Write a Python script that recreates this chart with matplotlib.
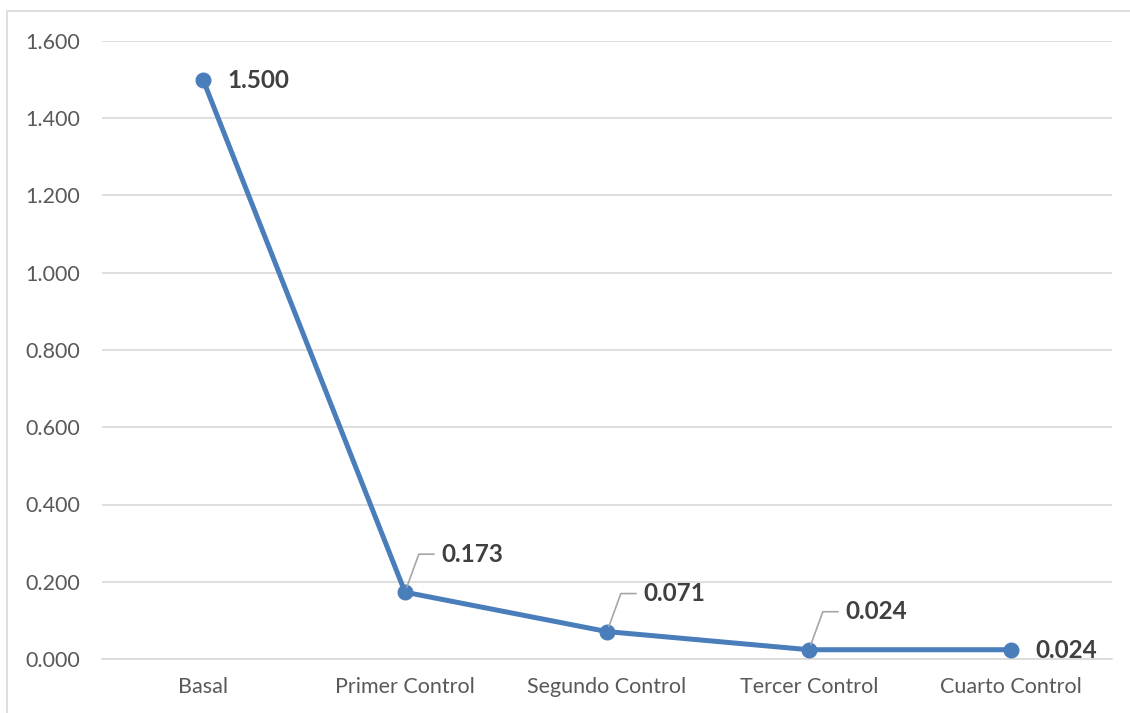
import matplotlib
matplotlib.use("Agg")
import matplotlib.pyplot as plt
from matplotlib.patches import Rectangle

categories = ["Basal", "Primer Control", "Segundo Control", "Tercer Control", "Cuarto Control"]
values = [1.500, 0.173, 0.071, 0.024, 0.024]
value_labels = ["1.500", "0.173", "0.071", "0.024", "0.024"]
yticks = [0.0, 0.2, 0.4, 0.6, 0.8, 1.0, 1.2, 1.4, 1.6]

plt.rcParams['font.family'] = ['Lato', 'DejaVu Sans']

fig = plt.figure(figsize=(11.3, 7.13), dpi=100)
ax = fig.add_axes([102/1130, 1 - 659/713, (1112 - 102)/1130, (659 - 41)/713])

x = list(range(len(categories)))
line_color = "#4A7EBB"
ax.plot(x, values, color=line_color, lw=3.6, marker='o', markersize=10.5,
        solid_capstyle='round', zorder=3, clip_on=False)

ax.set_xlim(-0.5, len(categories) - 0.5)
ax.set_ylim(0, 1.6)
ax.set_yticks(yticks)
ax.set_yticklabels([f"{t:.3f}" for t in yticks])
ax.set_xticks(x)
ax.set_xticklabels(categories)
ax.tick_params(axis='both', length=0, labelsize=15.5, colors="#595959")
ax.tick_params(axis='y', pad=16)
ax.tick_params(axis='x', pad=13)
ax.grid(axis='y', color="#D9D9D9", lw=1.2)
ax.set_axisbelow(True)
for s in ['top', 'right', 'left']:
    ax.spines[s].set_visible(False)
ax.spines['bottom'].set_color("#D9D9D9")
ax.spines['bottom'].set_linewidth(1.2)

label_style = dict(fontsize=17.5, fontweight='bold', color="#404040", va='center', ha='left')
for i, (v, lab) in enumerate(zip(values, value_labels)):
    if i == 0 or i == len(values) - 1:
        ax.annotate(lab, (i, v), xytext=(24, -1), textcoords='offset pixels', **label_style)
    else:
        ax.annotate(lab, (i, v), xytext=(36, 38), textcoords='offset pixels',
                    arrowprops=dict(arrowstyle='-', color="#A6A6A6", lw=1.2,
                                    relpos=(0, 0.5), shrinkA=3, shrinkB=4,
                                    connectionstyle="angle,angleA=0,angleB=70,rad=0"),
                    **label_style)

fig.patches.append(Rectangle((7/1130, -0.01), 1.1, 1 - 11/713 + 0.01, transform=fig.transFigure,
                             fill=False, edgecolor="#D9D9D9", lw=1.2))

fig.savefig("out.png", dpi=100)
